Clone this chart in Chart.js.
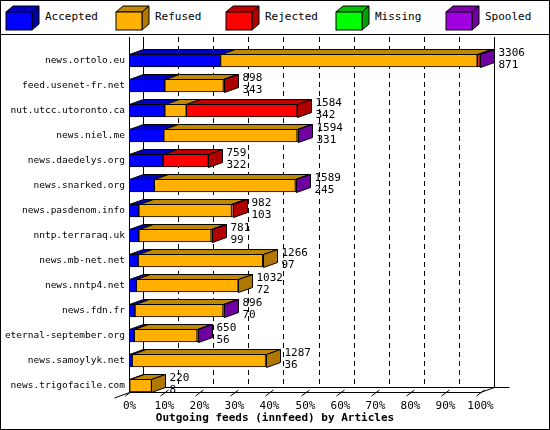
<!DOCTYPE html>
<html>
<head>
<meta charset="utf-8">
<script src="https://cdn.jsdelivr.net/npm/chart.js@4"></script>
<style>
  body { margin: 0; background: #fff; }
  #wrap { position: relative; width: 548px; height: 428px; border: 1px solid #000; overflow: hidden; }
  #legend { position: absolute; left: 0; top: 0; width: 548px; height: 33px; border-bottom: 1px solid #000;
    font: 11px "DejaVu Sans Mono", monospace; }
  .item { position: absolute; top: 4px; height: 24px; line-height: 24px; }
  .box { position: absolute; left: 0; top: 0; }
  .lab { position: absolute; left: 40px; white-space: nowrap; }
  canvas { position: absolute; left: 0; top: 0; }
</style>
</head>
<body>
<div id="wrap">
  <div id="legend"></div>
  <canvas id="c" width="548" height="428"></canvas>
</div>
<script>
const hosts = ["news.ortolo.eu", "feed.usenet-fr.net", "nut.utcc.utoronto.ca", "news.niel.me",
  "news.daedelys.org", "news.snarked.org", "news.pasdenom.info", "nntp.terraraq.uk", "news.mb-net.net",
  "news.nntp4.net", "news.fdn.fr", "eternal-september.org", "news.samoylyk.net", "news.trigofacile.com"];
const totals = [3306, 898, 1584, 1594, 759, 1589, 982, 781, 1266, 1032, 896, 650, 1287, 220];
const acceptedCounts = [871, 343, 342, 331, 322, 245, 103, 99, 97, 72, 70, 56, 36, 8];
// bar segments in percent of the largest feed
const accepted = [26.1, 10.2, 10.2, 9.9, 9.7, 7.2, 2.8, 2.8, 2.6, 2.1, 1.7, 1.5, 0.9, 0.2];
const refused = [73.1, 16.7, 6.1, 38.0, 0, 40.2, 26.4, 20.6, 35.5, 29.0, 25.1, 17.9, 38.0, 6.2];
const rejected = [0.6, 0.3, 31.6, 0, 12.9, 0, 0.3, 0.3, 0, 0, 0, 0, 0, 0];
const missing = [0, 0, 0, 0, 0, 0, 0, 0, 0, 0, 0, 0, 0, 0];
const spooled = [0.2, 0, 0, 0.3, 0, 0.3, 0, 0, 0, 0, 0.3, 0.3, 0, 0];
const xTicks = ["0%", "10%", "20%", "30%", "40%", "50%", "60%", "70%", "80%", "90%", "100%"];

const series = [
  { label: "Accepted", data: accepted, front: "#0000ff", top: "#0000c0", side: "#0000a0" },
  { label: "Refused", data: refused, front: "#ffb000", top: "#c08800", side: "#b07800" },
  { label: "Rejected", data: rejected, front: "#ff0000", top: "#c00000", side: "#b00000" },
  { label: "Missing", data: missing, front: "#00ff00", top: "#00c000", side: "#00a000" },
  { label: "Spooled", data: spooled, front: "#a000e0", top: "#8000b0", side: "#7000a0" },
];
const DX = 14, DY = 5;

// legend
const legendEl = document.getElementById("legend");
const legX = [4, 114, 224, 334, 444];
series.forEach((s, i) => {
  const it = document.createElement("div");
  it.className = "item";
  it.style.left = legX[i] + "px";
  it.innerHTML = `<svg class="box" width="36" height="26"><polygon points="1,7 8,1 34,1 27,7" fill="${s.top}" stroke="#000"/>
    <polygon points="27,7 34,1 34,19 27,25" fill="${s.side}" stroke="#000"/>
    <rect x="1" y="7" width="26" height="18" fill="${s.front}" stroke="#000"/></svg><span class="lab">${s.label}</span>`;
  legendEl.appendChild(it);
});

function poly(ctx, pts, fill) {
  ctx.beginPath();
  ctx.moveTo(pts[0][0], pts[0][1]);
  for (let k = 1; k < pts.length; k++) ctx.lineTo(pts[k][0], pts[k][1]);
  ctx.closePath();
  ctx.fillStyle = fill;
  ctx.fill();
  ctx.strokeStyle = "#000";
  ctx.lineWidth = 1;
  ctx.stroke();
}

const threeD = {
  id: "threeD",
  beforeDatasetsDraw(chart) {
    const { ctx, chartArea: a, scales: { x } } = chart;
    const floor = 391;
    ctx.save();
    ctx.strokeStyle = "#000";
    ctx.lineWidth = 1;
    ctx.setLineDash([5, 4]);
    for (let v = 10; v < 100; v += 10) {
      const px = Math.round(x.getPixelForValue(v)) + DX + 0.5;
      ctx.beginPath(); ctx.moveTo(px, 36); ctx.lineTo(px, floor - DY); ctx.stroke();
    }
    ctx.setLineDash([]);
    const l = Math.round(a.left) + 0.5, r = Math.round(x.getPixelForValue(100)) + 0.5;
    ctx.beginPath();
    ctx.moveTo(l + DX, 36); ctx.lineTo(l + DX, floor - DY);
    ctx.moveTo(r + DX, 36); ctx.lineTo(r + DX, floor - DY);
    ctx.moveTo(l, 36); ctx.lineTo(l, floor + 0.5);
    ctx.moveTo(l - 15, floor + 6); ctx.lineTo(l + DX, floor - DY + 0.5); ctx.lineTo(r + DX + 15, floor - DY + 0.5);
    ctx.moveTo(l, floor + 0.5); ctx.lineTo(r, floor + 0.5); ctx.lineTo(r + DX, floor - DY + 0.5);
    ctx.stroke();
    // tick marks and labels
    ctx.fillStyle = "#000";
    ctx.font = '11px "DejaVu Sans Mono", monospace';
    ctx.textAlign = "center";
    xTicks.forEach((t, k) => {
      const px = Math.round(x.getPixelForValue(k * 10)) + 0.5;
      ctx.beginPath(); ctx.moveTo(px - 4, floor + 4); ctx.lineTo(px + 4, floor - 2); ctx.stroke();
      ctx.fillText(t, px, floor + 17);
    });
    ctx.font = 'bold 11px "DejaVu Sans Mono", monospace';
    ctx.fillText("Outgoing feeds (innfeed) by Articles", 274, 420);
    ctx.restore();
  },
  afterDatasetsDraw(chart) {
    const { ctx } = chart;
    ctx.save();
    hosts.forEach((h, row) => {
      let last = null;
      series.forEach((s, di) => {
        const el = chart.getDatasetMeta(di).data[row];
        if (!el || s.data[row] <= 0) return;
        const x0 = Math.round(el.base), x1 = Math.round(el.x);
        const y0 = Math.round(el.y - el.height / 2) + 0.5;
        poly(ctx, [[x0 + 0.5, y0], [x0 + DX + 0.5, y0 - DY], [x1 + DX + 0.5, y0 - DY], [x1 + 0.5, y0]], s.top);
        last = { el, s };
      });
      if (!last) return;
      const { el, s } = last;
      const x1 = Math.round(el.x) + 0.5;
      const y0 = Math.round(el.y - el.height / 2) + 0.5, y1 = Math.round(el.y + el.height / 2) + 0.5;
      poly(ctx, [[x1, y0], [x1 + DX, y0 - DY], [x1 + DX, y1 - DY], [x1, y1]], s.side);
      ctx.fillStyle = "#000";
      ctx.font = '11px "DejaVu Sans Mono", monospace';
      ctx.textAlign = "left";
      ctx.textBaseline = "middle";
      ctx.fillText(String(totals[row]), x1 + DX + 4, el.y - 7);
      ctx.fillText(String(acceptedCounts[row]), x1 + DX + 4, el.y + 5);
    });
    ctx.restore();
  }
};

new Chart(document.getElementById("c"), {
  type: "bar",
  data: {
    labels: hosts,
    datasets: series.map((s) => ({
      label: s.label, data: s.data, backgroundColor: s.front,
      borderColor: "#000", borderWidth: 1, borderSkipped: false,
      barThickness: 13,
    })),
  },
  options: {
    indexAxis: "y",
    responsive: false,
    animation: false,
    layout: { padding: { top: 47, right: 69, bottom: 31, left: 0 } },
    plugins: { legend: { display: false }, tooltip: { enabled: false } },
    scales: {
      x: { stacked: true, min: 0, max: 100, display: false, grid: { display: false } },
      y: {
        stacked: true,
        grid: { display: false, drawTicks: false },
        border: { display: false },
        afterFit: (s) => { s.width = 128; },
        ticks: { color: "#000", padding: 4, font: { family: "DejaVu Sans Mono", size: 9.5 } },
      },
    },
  },
  plugins: [threeD],
});
</script>
</body>
</html>
